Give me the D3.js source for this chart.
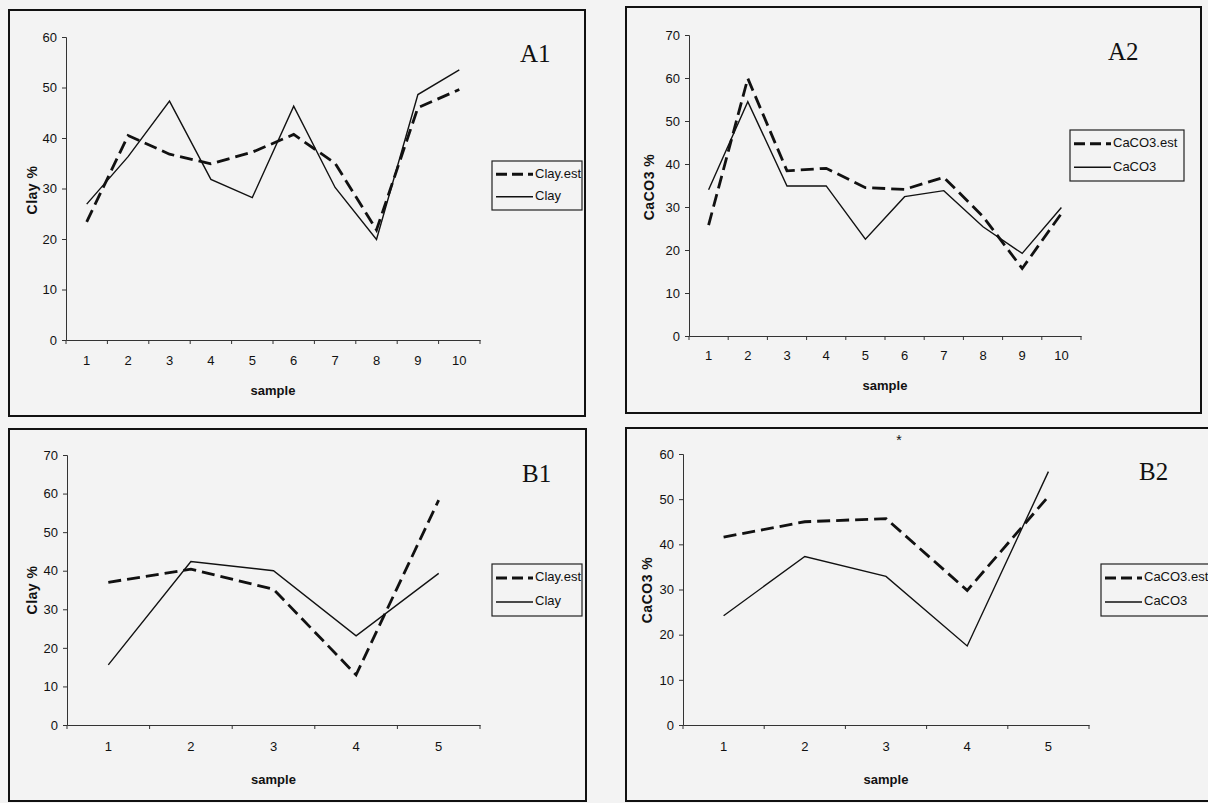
<!DOCTYPE html>
<html>
<head>
<meta charset="utf-8">
<script src="https://cdn.jsdelivr.net/npm/d3@7/dist/d3.min.js"></script>
<style>
  html, body { margin: 0; padding: 0; background: #f3f3f3; }
  svg { display: block; }
  .tick text { font-family: "Liberation Sans Narrow", "Liberation Sans", Arial, sans-serif; font-size: 13px; fill: #111; }
</style>
</head>
<body>
<svg id="chart" width="1208" height="803"></svg>
<script>
// ---- data ----
const samplesA = [1, 2, 3, 4, 5, 6, 7, 8, 9, 10];
const samplesB = [1, 2, 3, 4, 5];

const clayEstA = [23.4, 40.5, 36.8, 34.9, 37.2, 40.7, 35.0, 21.8, 46.0, 49.6];
const clayA    = [26.9, 36.3, 47.3, 31.8, 28.2, 46.3, 30.2, 19.9, 48.6, 53.5];

const caco3EstA = [25.8, 59.9, 38.4, 39.0, 34.5, 34.1, 36.9, 27.8, 15.7, 28.5];
const caco3A    = [34.0, 54.5, 34.9, 34.9, 22.5, 32.4, 33.8, 25.4, 19.2, 29.9];

const clayEstB = [37.0, 40.4, 35.2, 13.0, 58.3];
const clayB    = [15.6, 42.4, 40.0, 23.1, 39.3];

const caco3EstB = [41.6, 45.0, 45.7, 29.8, 50.6];
const caco3B    = [24.2, 37.3, 32.9, 17.5, 56.1];

const yTicksA1 = [0, 10, 20, 30, 40, 50, 60];
const yTicksA2 = [0, 10, 20, 30, 40, 50, 60, 70];
const yTicksB1 = [0, 10, 20, 30, 40, 50, 60, 70];
const yTicksB2 = [0, 10, 20, 30, 40, 50, 60];

// ---- panel layout ----
const panels = [
  { name: "A1", cats: samplesA, est: clayEstA, obs: clayA, estLabel: "Clay.est", obsLabel: "Clay",
    yTitle: "Clay %", yTicks: yTicksA1,
    frame: [9, 10, 585, 416], x0: 66, x1: 480, yZero: 340, yTop: 37,
    tag: [520, 62], legend: [492, 161, 582, 210], yTitlePos: [33, 190], xTitleY: 392, tickY: 362 },
  { name: "A2", cats: samplesA, est: caco3EstA, obs: caco3A, estLabel: "CaCO3.est", obsLabel: "CaCO3",
    yTitle: "CaCO3 %", yTicks: yTicksA2,
    frame: [626, 7, 1201, 413], x0: 689, x1: 1081, yZero: 336, yTop: 35,
    tag: [1108, 60], legend: [1070, 130, 1184, 181], yTitlePos: [650, 187], xTitleY: 387, tickY: 357 },
  { name: "B1", cats: samplesB, est: clayEstB, obs: clayB, estLabel: "Clay.est", obsLabel: "Clay",
    yTitle: "Clay %", yTicks: yTicksB1,
    frame: [9, 429, 586, 801], x0: 67, x1: 480, yZero: 725, yTop: 455,
    tag: [522, 482], legend: [492, 564, 582, 616], yTitlePos: [33, 590], xTitleY: 781, tickY: 748 },
  { name: "B2", cats: samplesB, est: caco3EstB, obs: caco3B, estLabel: "CaCO3.est", obsLabel: "CaCO3",
    yTitle: "CaCO3 %", yTicks: yTicksB2,
    frame: [626, 428, 1216, 801], x0: 683, x1: 1089, yZero: 725, yTop: 454,
    tag: [1139, 480], legend: [1101, 564, 1216, 616], yTitlePos: [648, 590], xTitleY: 781, tickY: 748 }
];

const svg = d3.select("#chart");
const sans = "'Liberation Sans Narrow', 'Liberation Sans', Arial, sans-serif";
const ink = "#111";

panels.forEach(p => {
  const g = svg.append("g");
  const [fx0, fy0, fx1, fy1] = p.frame;

  // outer frame
  g.append("rect")
    .attr("x", fx0).attr("y", fy0)
    .attr("width", fx1 - fx0).attr("height", fy1 - fy0)
    .attr("fill", "none").attr("stroke", ink).attr("stroke-width", 2);

  const yMax = p.yTicks[p.yTicks.length - 1];
  const x = d3.scaleBand().domain(p.cats).range([p.x0, p.x1]).padding(0);
  const y = d3.scaleLinear().domain([0, yMax]).range([p.yZero, p.yTop]);
  const cx = d => x(d) + x.bandwidth() / 2;

  // y axis
  const yAxis = g.append("g")
    .attr("transform", `translate(${p.x0},0)`)
    .call(d3.axisLeft(y).tickValues(p.yTicks).tickSize(4).tickPadding(5));
  yAxis.select(".domain").attr("stroke", "#333").attr("stroke-width", 1);
  yAxis.selectAll(".tick line").attr("stroke", "#333");

  // x axis: labels centred in categories, ticks on category boundaries
  const xAxis = g.append("g")
    .attr("transform", `translate(0,${p.yZero})`)
    .call(d3.axisBottom(x).tickSize(0).tickPadding(0).tickSizeOuter(0));
  xAxis.select(".domain").attr("stroke", "#333").attr("stroke-width", 1);
  xAxis.selectAll(".tick text").attr("dy", null).attr("y", p.tickY - p.yZero).attr("dominant-baseline", "middle");
  const bounds = p.cats.map(d => x(d)).concat([p.x1]);
  g.selectAll(null).data(bounds).enter().append("line")
    .attr("x1", d => d).attr("x2", d => d)
    .attr("y1", p.yZero).attr("y2", p.yZero + 4)
    .attr("stroke", "#333").attr("stroke-width", 1);

  // axis titles
  g.append("text")
    .attr("transform", `translate(${p.yTitlePos[0]},${p.yTitlePos[1]}) rotate(-90)`)
    .attr("text-anchor", "middle").attr("dominant-baseline", "middle")
    .attr("font-family", sans).attr("font-weight", "bold").attr("font-size", 14)
    .attr("letter-spacing", 0.5)
    .attr("fill", ink).text(p.yTitle);
  g.append("text")
    .attr("x", (p.x0 + p.x1) / 2).attr("y", p.xTitleY)
    .attr("text-anchor", "middle").attr("dominant-baseline", "middle")
    .attr("font-family", sans).attr("font-weight", "bold").attr("font-size", 13)
    .attr("fill", ink).text("sample");

  // series lines
  const line = d3.line().x((d, i) => cx(p.cats[i])).y(d => y(d));
  g.append("path").datum(p.obs).attr("d", line)
    .attr("fill", "none").attr("stroke", ink).attr("stroke-width", 1.4)
    .attr("stroke-linejoin", "miter");
  g.append("path").datum(p.est).attr("d", line)
    .attr("fill", "none").attr("stroke", ink).attr("stroke-width", 2.8)
    .attr("stroke-dasharray", "13,6");

  // panel tag
  g.append("text")
    .attr("x", p.tag[0]).attr("y", p.tag[1])
    .attr("font-family", "'Liberation Serif', 'Times New Roman', serif")
    .attr("font-size", 25).attr("fill", ink).text(p.name);

  // legend
  const [lx0, ly0, lx1, ly1] = p.legend;
  g.append("rect")
    .attr("x", lx0).attr("y", ly0).attr("width", lx1 - lx0).attr("height", ly1 - ly0)
    .attr("fill", "none").attr("stroke", "#222").attr("stroke-width", 1.2);
  const rowH = (ly1 - ly0) / 2;
  const entries = [
    { label: p.estLabel, dash: "11,5", w: 2.8 },
    { label: p.obsLabel, dash: null, w: 1.3 }
  ];
  entries.forEach((e, i) => {
    const ry = ly0 + rowH * (i + 0.5) + (i === 0 ? 1 : -1);
    g.append("line")
      .attr("x1", lx0 + 4).attr("x2", lx0 + 41)
      .attr("y1", ry).attr("y2", ry)
      .attr("stroke", ink).attr("stroke-width", e.w)
      .attr("stroke-dasharray", e.dash);
    g.append("text")
      .attr("x", lx0 + 43).attr("y", ry)
      .attr("dominant-baseline", "middle")
      .attr("font-family", sans).attr("font-size", 13)
      .attr("fill", ink).text(e.label);
  });
});

// stray mark above the B2 plot
svg.append("text")
  .attr("x", 899).attr("y", 445)
  .attr("text-anchor", "middle")
  .attr("font-family", sans).attr("font-size", 14).attr("fill", ink).text("*");
</script>
</body>
</html>
